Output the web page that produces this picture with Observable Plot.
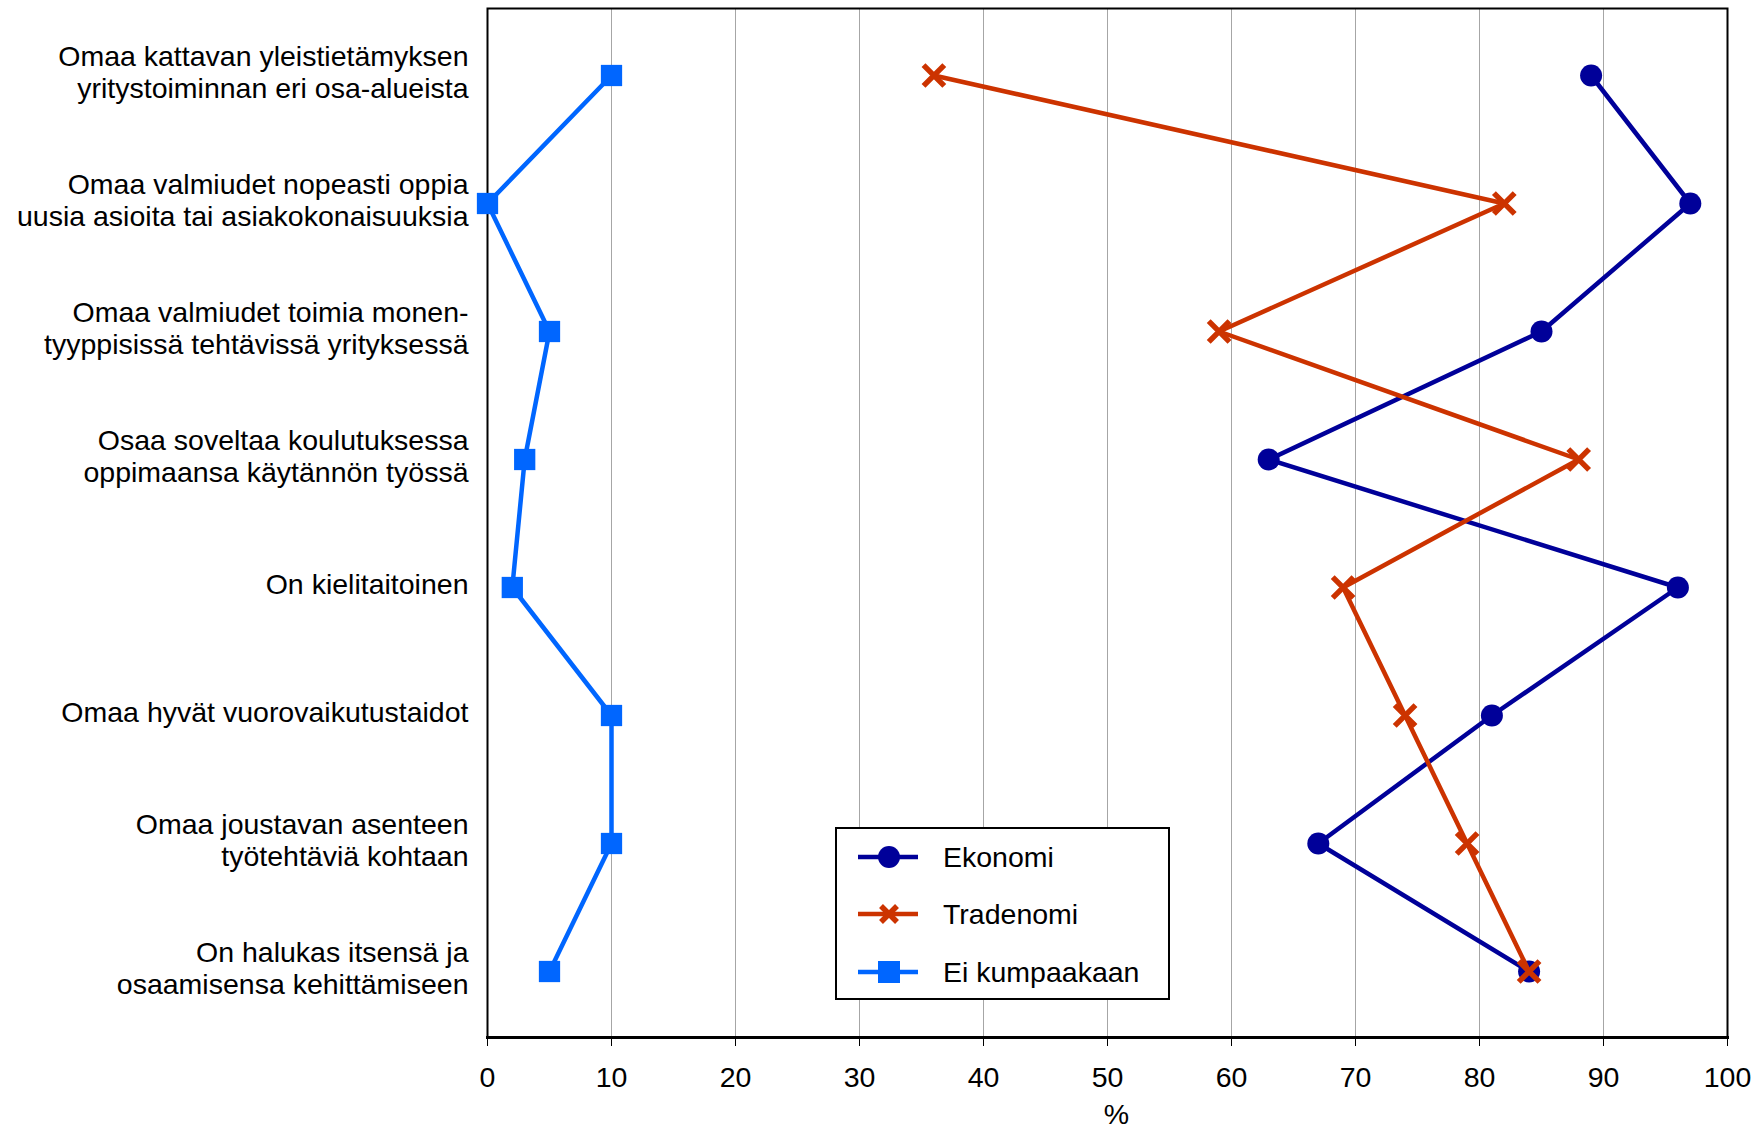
<!DOCTYPE html>
<html><head><meta charset="utf-8">
<script src="https://cdn.jsdelivr.net/npm/d3@7"></script>
<script src="https://cdn.jsdelivr.net/npm/@observablehq/plot@0.6"></script>
<style>
body{margin:0;background:#fff;}
#wrap{position:relative;width:1764px;height:1127px;}
#legend{position:absolute;left:835px;top:827px;width:331px;height:169px;border:2px solid #000;background:#fff;font-family:"Liberation Sans",Arial,sans-serif;font-size:28.5px;color:#000;}
.row{position:absolute;left:0;height:40px;display:flex;align-items:center;}
.row svg{margin-left:20px;}
.row span{margin-left:24px;}
</style></head>
<body><div id="wrap"></div>
<script>
const categories = [
  "Omaa kattavan yleistietämyksen\nyritystoiminnan eri osa-alueista",
  "Omaa valmiudet nopeasti oppia\nuusia asioita tai asiakokonaisuuksia",
  "Omaa valmiudet toimia monen-\ntyyppisissä tehtävissä yrityksessä",
  "Osaa soveltaa koulutuksessa\noppimaansa käytännön työssä",
  "On kielitaitoinen",
  "Omaa hyvät vuorovaikutustaidot",
  "Omaa joustavan asenteen\ntyötehtäviä kohtaan",
  "On halukas itsensä ja\nosaamisensa kehittämiseen"
];
const seriesNames = ["Ekonomi", "Tradenomi", "Ei kumpaakaan"];
const seriesColors = ["#000099", "#CC3300", "#0066FF"];
const seriesSymbols = ["circle", "times", "square"];
const ekonomi = [89, 97, 85, 63, 96, 81, 67, 84];
const tradenomi = [36, 82, 59, 88, 69, 74, 79, 84];
const eiKumpaakaan = [10, 0, 5, 3, 2, 10, 10, 5];
const xTicks = [0, 10, 20, 30, 40, 50, 60, 70, 80, 90, 100];
const xLabel = "%";

const seriesValues = [ekonomi, tradenomi, eiKumpaakaan];
const seriesData = seriesValues.map((vals, s) =>
  vals.map((v, i) => ({series: seriesNames[s], category: categories[i], value: v})));

const markSets = [];
seriesData.forEach((d, s) => {
  markSets.push(Plot.line(d, {x: "value", y: "category", stroke: seriesColors[s], strokeWidth: 4.5}));
  if (seriesSymbols[s] === "times") {
    markSets.push(Plot.dot(d, {x: "value", y: "category", symbol: "times", stroke: seriesColors[s], strokeWidth: 5.5, r: 9.5}));
  } else {
    markSets.push(Plot.dot(d, {x: "value", y: "category", symbol: seriesSymbols[s], fill: seriesColors[s], stroke: "none", r: seriesSymbols[s] === "square" ? 12 : 11}));
  }
});

const plot = Plot.plot({
  width: 1764, height: 1127,
  marginLeft: 487, marginRight: 37, marginTop: 8, marginBottom: 90,
  style: {fontFamily: '"Liberation Sans", Arial, sans-serif', fontSize: "28.5px", color: "#000", background: "#fff", overflow: "visible"},
  x: {domain: [0, 100]},
  y: {type: "point", domain: categories, padding: 0.5},
  marks: [
    Plot.gridX(xTicks, {stroke: "#a6a6a6", strokeOpacity: 1, strokeWidth: 1}),
    Plot.frame({stroke: "#000", strokeWidth: 2}),
    Plot.frame({anchor: "bottom", stroke: "#000", strokeWidth: 3}),
    Plot.axisX(xTicks, {tickSize: 9, tickPadding: 20, label: null, tickFormat: d => String(d)}),
    Plot.text([xLabel], {text: d => d, frameAnchor: "bottom", dy: 77, dx: 9, lineAnchor: "middle", fontSize: 28.5}),
    Plot.axisY({tickSize: 0, tickPadding: 19, label: null, lineHeight: 1.15, dy: -4, tickFormat: d => d}),
    ...markSets
  ]
});
const wrap = document.getElementById("wrap");
wrap.appendChild(plot);

// Legend
const legend = document.createElement("div");
legend.id = "legend";
const rowCenters = [28, 85, 143];
seriesNames.forEach((name, s) => {
  const row = document.createElement("div");
  row.className = "row";
  row.style.top = (rowCenters[s] - 20) + "px";
  const svg = d3.create("svg").attr("width", 62).attr("height", 40);
  svg.append("line").attr("x1", 1).attr("x2", 61).attr("y1", 20).attr("y2", 20)
    .attr("stroke", seriesColors[s]).attr("stroke-width", 4.5);
  const g = svg.append("g").attr("transform", "translate(32,20)");
  if (seriesSymbols[s] === "circle") {
    g.append("circle").attr("r", 11).attr("fill", seriesColors[s]);
  } else if (seriesSymbols[s] === "square") {
    g.append("rect").attr("x", -11).attr("y", -11).attr("width", 22).attr("height", 22).attr("fill", seriesColors[s]);
  } else {
    g.append("path").attr("d", "M-8,-8L8,8M-8,8L8,-8").attr("stroke", seriesColors[s]).attr("stroke-width", 5.5);
  }
  row.appendChild(svg.node());
  const span = document.createElement("span");
  span.textContent = name;
  row.appendChild(span);
  legend.appendChild(row);
});
wrap.appendChild(legend);
</script>
</body></html>
